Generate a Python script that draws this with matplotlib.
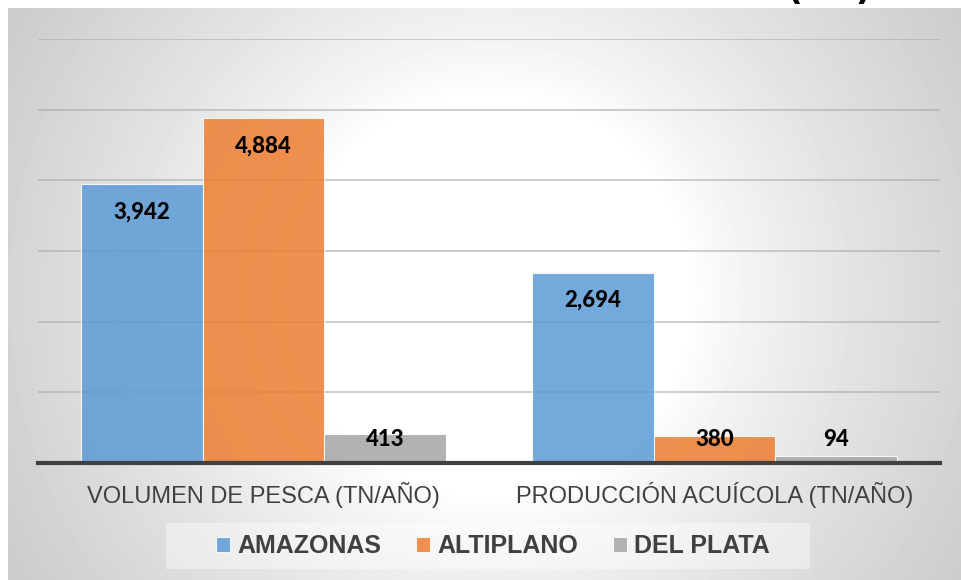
import numpy as np
import matplotlib.pyplot as plt
from matplotlib.patches import Rectangle

categories = ["VOLUMEN DE PESCA (TN/AÑO)", "PRODUCCIÓN ACUÍCOLA (TN/AÑO)"]
series_names = ["AMAZONAS", "ALTIPLANO", "DEL PLATA"]
amazonas = [3942, 2694]
altiplano = [4884, 380]
del_plata = [413, 94]
colors = ["#5b9bd5", "#ed7d31", "#a5a5a5"]

fig = plt.figure(figsize=(9.61, 5.8), dpi=100)

# radial grey background, white strip at top/left
h, w = 580, 961
yy, xx = np.mgrid[0:h, 0:w]
d = np.hypot(xx - 490, yy - 295)
t = np.clip((d - 200) / 350, 0, 1.1)
shade = 1 - 0.2 * t ** 0.8
shade[(xx < 8) | (yy < 8)] = 1.0
bg = fig.add_axes([0, 0, 1, 1], zorder=-1)
bg.imshow(shade, cmap='gray', vmin=0, vmax=1, aspect='auto', interpolation='bilinear')
bg.axis('off')
# legend box (kept behind the legend)
bg.add_patch(Rectangle((166 / 961, 11 / 580), 644 / 961, 46 / 580, transform=fig.transFigure,
                       facecolor='white', alpha=0.4, edgecolor='none'))

# title is cut off at the top of the picture
fig.text(787 / 961, 1.001, "(TN)", ha='left', va='baseline', fontsize=25,
         fontweight='bold', family='DejaVu Sans', color='black')

ax = fig.add_axes([38 / 961, 117 / 580, 902 / 961, 424 / 580])
ax.set_facecolor('none')
x = np.arange(len(categories))
width = 0.27
for i, (vals, name, c) in enumerate(zip([amazonas, altiplano, del_plata], series_names, colors)):
    pos = x + (i - 1) * width
    ax.bar(pos, vals, width, color=c, alpha=0.85, edgecolor='white', linewidth=0.8,
           label=name, zorder=2)
    for xi, v in zip(pos, vals):
        ax.text(xi, max(v - 396, 326), f"{v:,}", ha='center', va='center', fontsize=16,
                fontweight=900, family='Lato', color='black', zorder=3)

ax.set_xlim(-0.5, 1.5)
ax.set_ylim(0, 6000)
ax.set_yticks(np.arange(0, 7000, 1000))
ax.yaxis.grid(True, color='#a8a8a8', lw=1.3, alpha=0.6)
ax.set_axisbelow(True)
ax.tick_params(axis='y', left=False, labelleft=False)
ax.set_xticks(x, categories, family='Liberation Sans')
ax.tick_params(axis='x', length=0, pad=14, labelsize=17, labelcolor='#404040')
for s in ['top', 'left', 'right']:
    ax.spines[s].set_visible(False)
ax.spines['bottom'].set_color('#404040')
ax.spines['bottom'].set_linewidth(3)

leg = ax.legend(loc='center', bbox_to_anchor=(493 / 961, 1 - 546 / 580), bbox_transform=fig.transFigure,
                ncol=3, frameon=False, handlelength=0.55, handleheight=0.55, handletextpad=0.3,
                columnspacing=1.4, prop={'family': 'Liberation Sans', 'weight': 'bold', 'size': 18})
for txt in leg.get_texts():
    txt.set_color('#404040')

fig.savefig("out.png", dpi=100)
